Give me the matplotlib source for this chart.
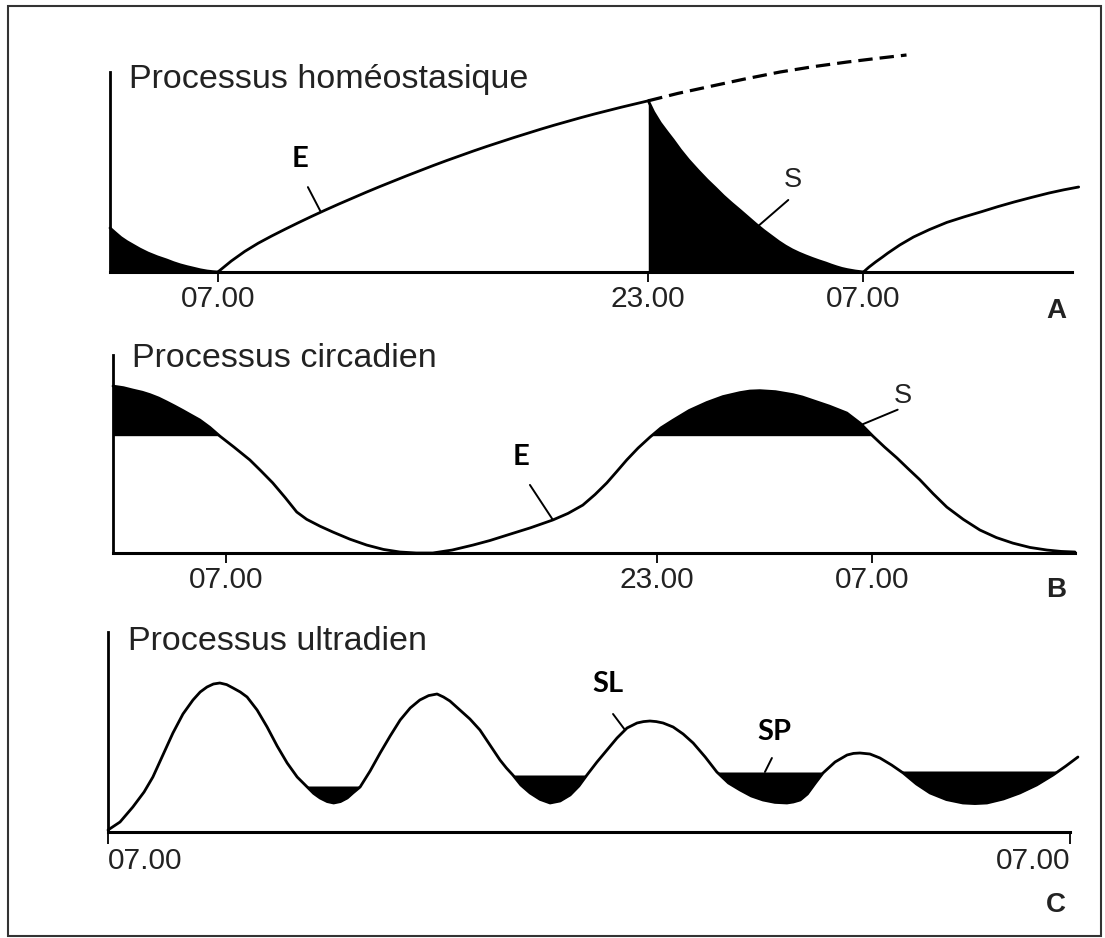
import numpy as np
import matplotlib
matplotlib.use("Agg")
import matplotlib.pyplot as plt
from matplotlib.patches import Rectangle

plt.rcParams['font.family'] = ['Liberation Sans', 'DejaVu Sans']

W, H = 1105, 938

# A - homeostatic process (time in hours, 07.00 = 7, next morning 07.00 = 31)
homeo_night_t = [2.99, 3.2, 3.4, 3.62, 3.84, 4.1, 4.4, 4.75, 5.1, 5.35, 5.6, 5.85, 6.07, 6.35, 6.6, 6.8, 7.0]
homeo_night_lvl = [0.22, 0.195, 0.172, 0.152, 0.135, 0.115, 0.095, 0.076, 0.06, 0.047, 0.036, 0.027,
                   0.02, 0.011, 0.005, 0.002, 0.0]
homeo_wake_t = [7.0, 7.5, 8.0, 8.5, 9.0, 9.5, 10.0, 10.5, 11.0, 11.5, 12.0, 12.5, 13.0, 13.5, 14.0, 14.5,
                15.0, 15.5, 16.0, 16.5, 17.0, 17.5, 18.0, 18.5, 19.0, 19.5, 20.0, 20.5, 21.0, 21.5, 22.0,
                22.5, 23.0]
homeo_wake_lvl = [0.0, 0.055, 0.103, 0.144, 0.18, 0.214, 0.247, 0.279, 0.31, 0.34, 0.369, 0.398, 0.426,
                  0.453, 0.48, 0.506, 0.532, 0.557, 0.581, 0.605, 0.628, 0.65, 0.672, 0.693, 0.714, 0.734,
                  0.753, 0.772, 0.79, 0.807, 0.824, 0.84, 0.856]
homeo_sleep_t = [23.0, 23.2, 23.45, 23.7, 23.93, 24.2, 24.5, 24.85, 25.19, 25.5, 25.8, 26.1, 26.4, 26.7,
                 27.0, 27.3, 27.6, 27.85, 28.1, 28.35, 28.6, 28.85, 29.1, 29.35, 29.6, 29.8, 30.0, 30.2,
                 30.4, 30.7, 31.0]
homeo_sleep_lvl = [0.856, 0.80, 0.745, 0.70, 0.66, 0.61, 0.56, 0.508, 0.46, 0.42, 0.38, 0.344, 0.31,
                   0.275, 0.24, 0.207, 0.177, 0.152, 0.13, 0.111, 0.095, 0.081, 0.068, 0.056, 0.045,
                   0.035, 0.026, 0.018, 0.012, 0.005, 0.0]
homeo_dash_t = [23.0, 24.1, 25.2, 26.55, 27.9, 29.15, 30.4, 31.5, 32.6]
homeo_dash_lvl = [0.856, 0.893, 0.925, 0.964, 1.0, 1.027, 1.05, 1.068, 1.085]
homeo_wake2_t = [31.0, 31.2, 31.45, 31.7, 31.9, 32.35, 32.86, 33.45, 34.1, 34.75, 35.4, 36.0, 36.6,
                 37.25, 37.9, 38.45, 39.0]
homeo_wake2_lvl = [0.0, 0.024, 0.05, 0.074, 0.094, 0.135, 0.175, 0.212, 0.248, 0.276, 0.302, 0.327,
                   0.35, 0.373, 0.395, 0.411, 0.425]
homeo_ticks = [7, 23, 31]
homeo_labels = ['07.00', '23.00', '07.00']

# B - circadian process
circ_t = [2.81, 3.2, 3.55, 3.9, 4.18, 4.5, 4.8, 5.1, 5.40, 5.7, 6.03, 6.4, 6.78, 7.3, 7.89, 8.3, 8.74,
          9.2, 9.63, 10.0, 10.5, 10.97, 11.6, 12.23, 12.85, 13.46, 14.07, 14.68, 15.4, 16.17, 16.8,
          17.43, 18.3, 19.14, 19.7, 20.25, 20.7, 21.14, 21.5, 21.88, 22.3, 22.74, 23.15, 23.59, 24.2,
          24.85, 25.45, 26.08, 26.45, 26.82, 27.4, 28.05, 28.4, 28.79, 29.4, 30.05, 30.55, 31.02,
          31.45, 31.91, 32.33, 32.76, 33.25, 33.76, 34.37, 34.99, 35.6, 36.21, 36.85, 37.48, 38.0, 38.52]
circ_lvl = [0.843, 0.835, 0.823, 0.812, 0.80, 0.783, 0.763, 0.742, 0.72, 0.697, 0.672, 0.635, 0.59,
            0.535, 0.47, 0.415, 0.354, 0.28, 0.207, 0.17, 0.135, 0.106, 0.07, 0.04, 0.018, 0.005, 0.0,
            0.0, 0.015, 0.04, 0.063, 0.09, 0.127, 0.167, 0.2, 0.242, 0.295, 0.354, 0.41, 0.47, 0.53,
            0.585, 0.632, 0.67, 0.72, 0.76, 0.79, 0.81, 0.818, 0.82, 0.815, 0.80, 0.788, 0.77, 0.742,
            0.707, 0.655, 0.59, 0.535, 0.48, 0.425, 0.37, 0.30, 0.232, 0.17, 0.116, 0.078, 0.05, 0.028,
            0.015, 0.008, 0.005]
circ_threshold = 0.59
circ_ticks = [7, 23, 31]
circ_labels = ['07.00', '23.00', '07.00']

# C - ultradian process
ultra_t = [7.0, 7.3, 7.62, 7.9, 8.12, 8.37, 8.62, 8.87, 9.12, 9.3, 9.47, 9.63, 9.79, 9.96, 10.12, 10.3,
           10.47, 10.72, 10.97, 11.22, 11.47, 11.72, 11.97, 12.13, 12.29, 12.47, 12.63, 12.8, 12.97,
           13.11, 13.29, 13.54, 13.79, 14.04, 14.29, 14.54, 14.78, 15.0, 15.21, 15.37, 15.53, 15.78,
           16.03, 16.28, 16.53, 16.78, 16.94, 17.10, 17.3, 17.53, 17.78, 18.03, 18.28, 18.53, 18.75,
           18.95, 19.2, 19.45, 19.7, 19.95, 20.2, 20.36, 20.52, 20.68, 20.85, 21.10, 21.35, 21.60,
           21.9, 22.19, 22.48, 22.77, 23.05, 23.34, 23.64, 23.94, 24.1, 24.27, 24.45, 24.65, 24.84,
           25.14, 25.44, 25.6, 25.76, 26.01, 26.26, 26.55, 26.84, 27.17, 27.51, 27.92, 28.33, 28.63,
           28.93, 29.34, 29.75, 30.17, 30.58, 30.9, 31.20]
ultra_lvl = [0.01, 0.05, 0.125, 0.2, 0.275, 0.385, 0.495, 0.59, 0.66, 0.70, 0.725, 0.74, 0.745, 0.737,
             0.72, 0.70, 0.675, 0.61, 0.525, 0.43, 0.345, 0.275, 0.225, 0.193, 0.17, 0.152, 0.145,
             0.152, 0.17, 0.195, 0.225, 0.305, 0.395, 0.48, 0.56, 0.62, 0.66, 0.682, 0.69, 0.675,
             0.655, 0.61, 0.565, 0.51, 0.435, 0.36, 0.32, 0.285, 0.235, 0.195, 0.163, 0.145, 0.155,
             0.185, 0.23, 0.285, 0.35, 0.41, 0.47, 0.52, 0.545, 0.552, 0.555, 0.552, 0.545, 0.525,
             0.49, 0.445, 0.375, 0.30, 0.245, 0.21, 0.18, 0.16, 0.148, 0.145, 0.15, 0.16, 0.19, 0.245,
             0.295, 0.35, 0.385, 0.393, 0.395, 0.39, 0.37, 0.335, 0.295, 0.24, 0.195, 0.162, 0.145,
             0.142, 0.145, 0.165, 0.195, 0.235, 0.285, 0.33, 0.375]
ultra_sp_lvl = [0.23, 0.285, 0.30, 0.305]
ultra_sp_start = [9.8, 15.2, 20.5, 25.8]
ultra_sp_end = [15.2, 20.5, 25.8, 31.2]
ultra_ticks = [7, 31]
ultra_labels = ['07.00', '07.00']

LW = 2.0
fig = plt.figure(figsize=(W / 100, H / 100), dpi=100)
fig.add_artist(Rectangle((8 / W, 1 - 936 / H), 1093 / W, 930 / H, transform=fig.transFigure,
                         fill=False, edgecolor='#333333', lw=1.5))


def panel(x0, base_y, t0, t1, px_h, top, px_lvl, axis_end):
    ax = fig.add_axes([x0 / W, (H - base_y) / H, (t1 - t0) * px_h / W, top * px_lvl / H])
    ax.set_xlim(t0, t1)
    ax.set_ylim(0, top)
    ax.patch.set_visible(False)
    ax.spines['top'].set_visible(False)
    ax.spines['right'].set_visible(False)
    ax.spines['left'].set_linewidth(2)
    ax.spines['bottom'].set_linewidth(2.2)
    ax.spines['left'].set_bounds(0, 1)
    ax.spines['bottom'].set_bounds(t0, axis_end)
    ax.set_yticks([])
    ax.tick_params(axis='x', direction='out', length=7.5, width=1.3, pad=2, labelsize=21.5,
                   labelcolor='#222222')
    return ax


def fig_text(x, y, s, **kw):
    fig.text(x / W, 1 - y / H, s, va='baseline', **kw)


def leader(ax, t, lvl, line_off, label_off, text, **kw):
    ax.annotate('', xy=(t, lvl), xytext=line_off, textcoords='offset pixels',
                arrowprops=dict(arrowstyle='-', lw=1.4, color='black', shrinkA=0, shrinkB=0))
    ax.annotate(text, xy=(t, lvl), xytext=label_off, textcoords='offset pixels',
                ha='center', va='center', **kw)


bold_kw = dict(family=['Lato', 'DejaVu Sans'], fontweight='bold', fontsize=21)
thin_kw = dict(fontsize=19.5, color='#222222')
line_kw = dict(color='black', lw=LW, clip_on=False, solid_joinstyle='round', solid_capstyle='round')

# ---- A
axA = panel(110, 272, 2.99, 39.2, 26.9, 1.12, 200, 38.77)
axA.fill_between(homeo_night_t, 0, homeo_night_lvl, color='black', lw=0)
axA.plot(homeo_night_t, homeo_night_lvl, **line_kw)
axA.plot(homeo_wake_t, homeo_wake_lvl, **line_kw)
axA.plot(homeo_dash_t, homeo_dash_lvl, color='black', lw=2.3, ls=(0, (4.5, 2.2)), clip_on=False)
axA.fill_between(homeo_sleep_t, 0, homeo_sleep_lvl, color='black', lw=0)
axA.plot(homeo_sleep_t, homeo_sleep_lvl, **line_kw)
axA.plot(homeo_wake2_t, homeo_wake2_lvl, **line_kw)
axA.set_xticks(homeo_ticks, homeo_labels)
leader(axA, 10.83, np.interp(10.83, homeo_wake_t, homeo_wake_lvl), (-13, 25), (-21, 53), 'E', **bold_kw)
leader(axA, 27.09, np.interp(27.09, homeo_sleep_t, homeo_sleep_lvl), (30, 26), (35, 46), 'S', **thin_kw)
fig_text(129, 88, 'Processus homéostasique', fontsize=24.5, color='#222222')
fig_text(1066, 318, 'A', ha='right', fontsize=20, fontweight='bold', color='#222222')

# ---- B
axB = panel(113, 553, 2.81, 38.9, 26.94, 1.05, 198, 38.52)
c_t = np.array(circ_t)
c_l = np.array(circ_lvl)
axB.fill_between(c_t, circ_threshold, c_l, where=c_l >= circ_threshold, interpolate=True,
                 color='black', lw=0)
axB.plot(c_t, c_l, **line_kw)
axB.set_xticks(circ_ticks, circ_labels)
leader(axB, 19.14, np.interp(19.14, circ_t, circ_lvl), (-23, 35), (-32, 63), 'E', **bold_kw)
leader(axB, 30.6, np.interp(30.6, circ_t, circ_lvl), (36, 15), (41, 29), 'S', **thin_kw)
fig_text(132, 367, 'Processus circadien', fontsize=24.5, color='#222222')
fig_text(1066, 597, 'B', ha='right', fontsize=20, fontweight='bold', color='#222222')

# ---- C
axC = panel(108, 832, 7.0, 31.4, 40.08, 1.0, 200, 31.0)
u_t = np.array(ultra_t)
u_l = np.array(ultra_lvl)
for lvl, a, b in zip(ultra_sp_lvl, ultra_sp_start, ultra_sp_end):
    inside = (u_t >= a) & (u_t <= b)
    axC.fill_between(u_t, u_l, lvl, where=inside & (u_l <= lvl), interpolate=True,
                     color='black', lw=0)
axC.plot(u_t, u_l, **line_kw)
axC.set_xticks(ultra_ticks, ultra_labels)
axC.tick_params(axis='x', length=8.5)
tl = axC.get_xticklabels()
tl[0].set_ha('left')
tl[-1].set_ha('right')
leader(axC, 19.9, np.interp(19.9, ultra_t, ultra_lvl), (-12, 16), (-17, 46), 'SL', **bold_kw)
leader(axC, 23.39, ultra_sp_lvl[2], (7, 14), (9, 40), 'SP', **bold_kw)
fig_text(128, 650, 'Processus ultradien', fontsize=24.5, color='#222222')
fig_text(1066, 912, 'C', ha='right', fontsize=20, fontweight='bold', color='#222222')

fig.savefig('out.png', dpi=100)
